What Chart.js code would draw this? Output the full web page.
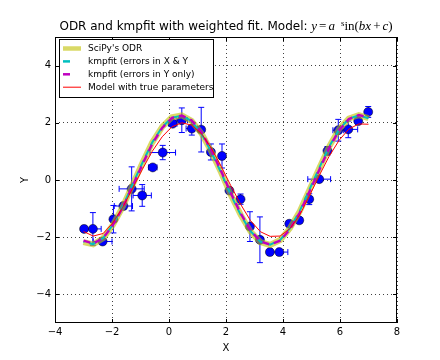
<!DOCTYPE html>
<html lang="en">
<head>
  <meta charset="UTF-8">
  <title>ODR and kmpfit with weighted fit</title>
  <script src="https://cdn.jsdelivr.net/npm/chart.js"></script>
  <style>
    html, body { margin: 0; padding: 0; background: #fff; }
    canvas { display: block; }
  </style>
</head>
<body>
  <canvas id="chart" width="440" height="360"></canvas>
  <script>
    // measured data with errors in both X and Y
    const xData = [-2.98, -2.67, -2.33, -1.95, -1.60, -1.31, -0.94, -0.57, -0.22, 0.13,
                   0.45, 0.80, 1.13, 1.47, 1.86, 2.12, 2.51, 2.84, 3.19, 3.54,
                   3.87, 4.22, 4.57, 4.92, 5.27, 5.56, 5.94, 6.29, 6.64, 6.99];
    const yData = [-1.71, -1.71, -2.15, -1.37, -0.91, -0.31, -0.54, 0.44, 0.96, 1.97,
                   2.09, 1.80, 1.76, 0.98, 0.84, -0.37, -0.67, -1.63, -2.09, -2.52,
                   -2.52, -1.53, -1.41, -0.67, 0.03, 1.02, 1.74, 1.77, 2.06, 2.38];
    const xErr = [0.10, 0.29, 0.33, 0.10, 0.32, 0.44, 0.32, 0.15, 0.45, 0.15,
                  0.20, 0.20, 0.10, 0.10, 0.10, 0.10, 0.10, 0.10, 0.10, 0.10,
                  0.30, 0.10, 0.10, 0.10, 0.40, 0.10, 0.19, 0.33, 0.10, 0.10];
    const yErr = [0.10, 0.57, 0.10, 0.48, 0.10, 0.77, 0.38, 0.08, 0.25, 0.10,
                  0.43, 0.23, 0.78, 0.28, 0.42, 0.10, 0.18, 0.52, 0.80, 0.10,
                  0.10, 0.10, 0.10, 0.19, 0.10, 0.15, 0.38, 0.29, 0.10, 0.19];

    // model curves, sampled on the same grid
    const xModel = [-3.00, -2.66, -2.31, -1.97, -1.62, -1.28, -0.93, -0.59, -0.24, 0.10,
                    0.45, 0.79, 1.14, 1.48, 1.83, 2.17, 2.52, 2.86, 3.21, 3.55,
                    3.90, 4.24, 4.59, 4.93, 5.28, 5.62, 5.97, 6.31, 6.66, 7.00];
    const yOdr = [-2.17, -2.25, -2.04, -1.57, -0.93, -0.17, 0.60, 1.31, 1.86, 2.19,
                  2.26, 2.07, 1.63, 1.00, 0.26, -0.52, -1.23, -1.80, -2.17, -2.27,
                  -2.10, -1.69, -1.09, -0.34, 0.43, 1.17, 1.78, 2.15, 2.27, 2.16];
    const yKmpXY = [-2.16, -2.24, -2.03, -1.56, -0.92, -0.16, 0.61, 1.31, 1.85, 2.18,
                    2.25, 2.06, 1.62, 0.99, 0.25, -0.52, -1.23, -1.79, -2.16, -2.26,
                    -2.10, -1.69, -1.08, -0.33, 0.44, 1.17, 1.77, 2.14, 2.26, 2.16];
    const yKmpY = [-2.12, -2.22, -2.03, -1.58, -0.96, -0.21, 0.55, 1.26, 1.82, 2.17,
                   2.25, 2.09, 1.67, 1.05, 0.31, -0.46, -1.18, -1.76, -2.15, -2.26,
                   -2.12, -1.73, -1.14, -0.40, 0.37, 1.12, 1.74, 2.13, 2.27, 2.18];
    const yTrue = [-1.80, -1.96, -1.87, -1.50, -0.95, -0.30, 0.38, 1.00, 1.51, 1.86,
                   2.00, 1.92, 1.62, 1.12, 0.48, -0.20, -0.86, -1.42, -1.81, -1.97,
                   -1.96, -1.70, -1.22, -0.55, 0.17, 0.83, 1.39, 1.78, 1.96, 1.95];

    const xTicks = [-4, -2, 0, 2, 4, 6, 8];
    const yTicks = [-4, -2, 0, 2, 4];

    const legendItems = [
      { label: "SciPy's ODR", kind: 'odr' },
      { label: 'kmpfit (errors in X & Y', kind: 'kxy' },
      { label: 'kmpfit (errors in Y only)', kind: 'ky' },
      { label: 'Model with true parameters', kind: 'true' }
    ];

    const ODR_COLOR = 'rgba(191,191,0,0.6)';
    const CYAN = '#00bfbf';
    const MAGENTA = '#bf00bf';
    const SANS = '"DejaVu Sans", sans-serif';
    const SERIF = '"Liberation Serif", "DejaVu Serif", serif';

    const pts = (xs, ys) => xs.map((x, i) => ({ x: x, y: ys[i] }));
    const minus = v => (v < 0 ? '\u2212' + Math.abs(v) : String(v));

    const decor = {
      id: 'decor',
      beforeDatasetsDraw(chart) {
        // error bars under the markers
        const { ctx, scales: { x, y } } = chart;
        const cap = 3;
        ctx.save();
        ctx.strokeStyle = '#0000ff';
        ctx.lineWidth = 1;
        xData.forEach((xv, i) => {
          const px = x.getPixelForValue(xv);
          const py = y.getPixelForValue(yData[i]);
          const x0 = x.getPixelForValue(xv - xErr[i]);
          const x1 = x.getPixelForValue(xv + xErr[i]);
          const y0 = y.getPixelForValue(yData[i] - yErr[i]);
          const y1 = y.getPixelForValue(yData[i] + yErr[i]);
          ctx.beginPath();
          ctx.moveTo(x0, py); ctx.lineTo(x1, py);
          ctx.moveTo(x0, py - cap); ctx.lineTo(x0, py + cap);
          ctx.moveTo(x1, py - cap); ctx.lineTo(x1, py + cap);
          ctx.moveTo(px, y0); ctx.lineTo(px, y1);
          ctx.moveTo(px - cap, y0); ctx.lineTo(px + cap, y0);
          ctx.moveTo(px - cap, y1); ctx.lineTo(px + cap, y1);
          ctx.stroke();
        });
        ctx.restore();
      },
      afterDraw(chart) {
        const { ctx, chartArea: a, scales: { x, y } } = chart;
        ctx.save();

        // frame and inward ticks
        ctx.strokeStyle = '#000';
        ctx.lineWidth = 1;
        ctx.strokeRect(a.left + 0.5, a.top + 0.5, a.right - a.left - 1, a.bottom - a.top - 1);
        ctx.beginPath();
        xTicks.forEach(v => {
          const px = Math.round(x.getPixelForValue(v)) + 0.5;
          ctx.moveTo(px, a.bottom); ctx.lineTo(px, a.bottom - 4);
          ctx.moveTo(px, a.top); ctx.lineTo(px, a.top + 4);
        });
        yTicks.forEach(v => {
          const py = Math.round(y.getPixelForValue(v)) + 0.5;
          ctx.moveTo(a.left, py); ctx.lineTo(a.left + 4, py);
          ctx.moveTo(a.right, py); ctx.lineTo(a.right - 4, py);
        });
        ctx.stroke();

        // legend
        const lx = a.left + 4, ly = a.top + 2, lw = 154, lh = 58;
        ctx.fillStyle = '#fff';
        ctx.fillRect(lx, ly, lw, lh);
        ctx.strokeRect(lx + 0.5, ly + 0.5, lw, lh);
        ctx.font = '9px ' + SANS;
        ctx.textBaseline = 'middle';
        legendItems.forEach((it, i) => {
          const cy = ly + 9.5 + i * 12.9;
          const h0 = lx + 4, h1 = lx + 22;
          ctx.beginPath();
          if (it.kind === 'odr') {
            ctx.strokeStyle = ODR_COLOR; ctx.lineWidth = 4.5;
            ctx.moveTo(h0, cy); ctx.lineTo(h1, cy);
          } else if (it.kind === 'kxy') {
            ctx.strokeStyle = CYAN; ctx.lineWidth = 2.5;
            ctx.moveTo(h0, cy); ctx.lineTo(h0 + 7, cy);
          } else if (it.kind === 'ky') {
            ctx.strokeStyle = MAGENTA; ctx.lineWidth = 2.5;
            ctx.moveTo(h0, cy); ctx.lineTo(h0 + 7, cy);
          } else {
            ctx.strokeStyle = '#ff0000'; ctx.lineWidth = 1;
            ctx.moveTo(h0, cy); ctx.lineTo(h1, cy);
          }
          ctx.stroke();
          ctx.fillStyle = '#000';
          ctx.fillText(it.label, lx + 29, cy + 0.5);
        });

        // title: plain text followed by the math part
        const head = 'ODR and kmpfit with weighted fit. Model: ';
        const it = 'italic 13px ' + SERIF, rm = '13px ' + SERIF;
        const math = [
          { t: 'y', f: it, g: 2 }, { t: '=', f: rm, g: 2 }, { t: 'a', f: it, g: 6 },
          { t: 's', f: '9px ' + SERIF, g: 0, up: 4 }, { t: 'in(', f: rm, g: 0 },
          { t: 'bx', f: it, g: 2 }, { t: '+', f: rm, g: 2 }, { t: 'c', f: it, g: 0 },
          { t: ')', f: rm, g: 0 }
        ];
        ctx.font = '12px ' + SANS;
        let total = ctx.measureText(head).width;
        math.forEach(m => { ctx.font = m.f; m.w = ctx.measureText(m.t).width; total += m.w + m.g; });
        let tx = (a.left + a.right) / 2 - total / 2;
        const base = 30;
        ctx.textBaseline = 'alphabetic';
        ctx.fillStyle = '#000';
        ctx.font = '12px ' + SANS;
        ctx.fillText(head, tx, base);
        tx += ctx.measureText(head).width;
        math.forEach(m => {
          ctx.font = m.f;
          ctx.fillText(m.t, tx, base - (m.up || 0));
          tx += m.w + m.g;
        });
        ctx.restore();
      }
    };

    const axisFont = { family: SANS, size: 10 };

    new Chart(document.getElementById('chart'), {
      type: 'scatter',
      data: {
        datasets: [
          {
            label: 'Model with true parameters',
            data: pts(xModel, yTrue),
            showLine: true, borderColor: '#ff0000', borderWidth: 1,
            pointRadius: 0, order: 1
          },
          {
            label: 'kmpfit (errors in Y only)',
            data: pts(xModel, yKmpY),
            showLine: true, borderColor: MAGENTA, borderWidth: 2.5, borderDash: [7, 5],
            pointRadius: 0, order: 2
          },
          {
            label: 'kmpfit (errors in X & Y',
            data: pts(xModel, yKmpXY),
            showLine: true, borderColor: CYAN, borderWidth: 2, borderDash: [7, 5], borderDashOffset: 6,
            pointRadius: 0, order: 3
          },
          {
            label: "SciPy's ODR",
            data: pts(xModel, yOdr),
            showLine: true, borderColor: ODR_COLOR, borderWidth: 6,
            pointRadius: 0, order: 4
          },
          {
            label: 'data',
            data: pts(xData, yData),
            pointRadius: 4.5, pointBackgroundColor: '#0000ff',
            pointBorderColor: '#000', pointBorderWidth: 0.5, order: 5
          }
        ]
      },
      options: {
        responsive: false,
        animation: false,
        layout: { padding: { top: 37, right: 43, bottom: 0, left: 0 } },
        plugins: {
          legend: { display: false },
          tooltip: { enabled: false },
          title: { display: false }
        },
        scales: {
          x: {
            type: 'linear', min: -4, max: 8,
            afterBuildTicks: s => { s.ticks = xTicks.map(v => ({ value: v })); },
            afterFit: s => { s.height = 37; },
            ticks: { color: '#000', font: axisFont, padding: 3, maxRotation: 0, callback: minus },
            grid: { color: 'rgba(0,0,0,0.75)', lineWidth: 1, drawTicks: false },
            border: { display: false, dash: [1, 3] },
            title: { display: true, text: 'X', color: '#000', font: axisFont, padding: { top: 0, bottom: 6 } }
          },
          y: {
            type: 'linear', min: -5, max: 5,
            afterBuildTicks: s => { s.ticks = yTicks.map(v => ({ value: v })); },
            afterFit: s => { s.width = 55; },
            ticks: { color: '#000', font: axisFont, padding: 4, callback: minus },
            grid: { color: 'rgba(0,0,0,0.75)', lineWidth: 1, drawTicks: false },
            border: { display: false, dash: [1, 3] },
            title: { display: true, text: 'Y', color: '#000', font: axisFont, padding: { top: 19, bottom: 0 } }
          }
        }
      },
      plugins: [decor]
    });
  </script>
</body>
</html>
